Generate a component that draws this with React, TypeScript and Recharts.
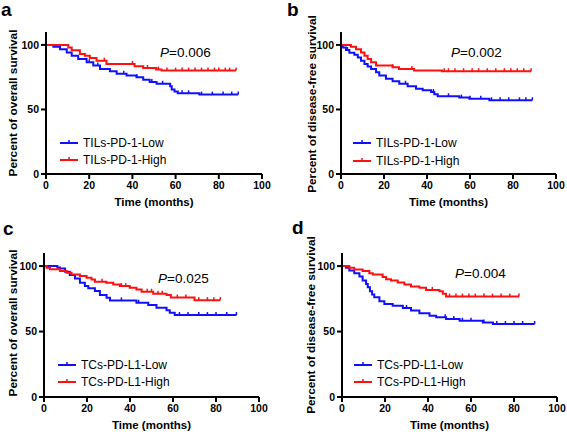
import React from "react";
import { LineChart, Line, XAxis, YAxis, Legend } from "recharts";

// Kaplan-Meier step points: [month, percent surviving]
const A_LOW: [number, number][] = [
  [0, 100], [3.4, 98.5], [6.5, 96.7], [9.6, 94.1], [11.9, 91.6], [14.9, 89], [18.8, 86.5],
  [21.9, 84], [25, 81.4], [29.6, 79.6], [32.7, 77.6], [37.3, 76.3], [41.9, 75], [45, 73],
  [48, 71.2], [51.2, 69.9], [57.5, 68], [58.2, 65.5], [59.5, 64], [61, 62.5], [71, 61.5], [89, 61.5],
];
const A_HIGH: [number, number][] = [
  [0, 100], [10.3, 98], [11.9, 95.9], [15.7, 92.9], [18, 91.6], [20.3, 89.8], [23.4, 87.8],
  [28, 85.2], [41, 83.4], [45, 82.1], [51, 80.9], [53.5, 80.1], [88, 80.1],
];
const A_LOW_CENSOR = [20, 24, 36, 42, 49, 54, 63, 66, 72, 77, 82, 86, 89];
const A_HIGH_CENSOR = [27, 40, 47, 52, 56, 60, 63, 66, 69, 72, 75, 78, 80, 83, 85, 88];

const B_LOW: [number, number][] = [
  [0, 100], [0.8, 98], [2.3, 96], [3.9, 94], [6.2, 92.3], [7.8, 90.3], [9.3, 87.8], [10.9, 85.2],
  [12.4, 83.2], [14, 81.4], [16.3, 78.8], [17.8, 76.3], [20.9, 73.7], [24, 71.9], [27.1, 69.9],
  [31, 67.9], [34.9, 66], [38, 64.8], [41.9, 63.5], [43.4, 61.7], [45, 60.2], [55, 59.2],
  [59.7, 58.2], [69, 57.1], [89, 57.1],
];
const B_HIGH: [number, number][] = [
  [0, 100], [4.6, 98.5], [7, 96.7], [9.3, 94.1], [10.9, 91.6], [12.4, 89], [14, 86.5],
  [16.3, 84], [24, 82.7], [27, 81.4], [34, 80.1], [47, 79.6], [88.4, 79.6],
];
const B_LOW_CENSOR = [3, 30, 43, 50, 56, 60, 65, 70, 74, 78, 83, 86, 89];
const B_HIGH_CENSOR = [24, 33, 48, 50, 53, 57, 61, 64, 68, 72, 76, 79, 82, 85, 88.4];

const C_LOW: [number, number][] = [
  [0, 100], [6.2, 99], [7.4, 98.2], [9.8, 95.7], [12, 93.1], [14.4, 90.6], [16.7, 87.3],
  [19, 84.7], [20.6, 83], [23.7, 80.9], [26, 77.9], [29.1, 75.8], [30.7, 73.8], [43, 72],
  [48.5, 70.2], [52.3, 68.2], [57, 66.2], [58.5, 64.4], [60.8, 62.6], [89.5, 62.6],
];
const C_HIGH: [number, number][] = [
  [0, 100], [1.2, 98.7], [2.8, 97.5], [7.4, 96.2], [10.5, 94.9], [12.8, 93.6], [16.7, 92.4],
  [19.8, 91.1], [22.1, 89.8], [23.7, 88], [29, 87.3], [32.2, 86], [35.3, 84.7], [39.9, 83.5],
  [43, 82.2], [45.4, 80.4], [50.8, 78.9], [57, 77.9], [59, 76], [70, 74], [82, 74],
];
const C_LOW_CENSOR = [36, 44, 63, 67, 72, 76, 80, 85, 89.5];
const C_HIGH_CENSOR = [27, 36, 38, 48, 50, 53, 55, 62, 66, 72, 76, 79, 82];

const D_LOW: [number, number][] = [
  [0, 100], [1.9, 98.7], [3.4, 96.7], [5.7, 94.6], [8.1, 92.1], [9.6, 89], [11.2, 86.4],
  [12, 83.9], [13, 80.8], [14, 78.3], [15, 76.2], [17.4, 73.1], [19.7, 71.1], [23.6, 69.8],
  [28.3, 68], [32.1, 66], [36, 63.9], [40.7, 62.1], [43.8, 60.9], [48.4, 59.6], [54.7, 58.3],
  [65.5, 57], [70.2, 55.8], [89.6, 55.8],
];
const D_HIGH: [number, number][] = [
  [0, 100], [3.4, 98.7], [5.7, 97.4], [9.6, 96.2], [12.7, 94.6], [14.3, 93.6], [18.9, 91.6],
  [20.5, 90], [22.8, 89], [25.9, 87.5], [29, 85.9], [32.1, 84.4], [36, 83.4], [39.1, 81.8],
  [45.3, 80.8], [46.9, 78.8], [48.4, 76.7], [82.3, 76.7],
];
const D_LOW_CENSOR = [30, 48, 52, 56, 60, 66, 72, 76, 80, 84, 89.6];
const D_HIGH_CENSOR = [42, 50, 53, 56, 59, 62, 66, 70, 74, 78, 82.3];

const X_TICKS = [0, 20, 40, 60, 80, 100];
const Y_TICKS = [0, 50, 100];

const FONT = "'Liberation Sans', Arial, sans-serif";
const BLUE = "#1010ff";
const RED = "#ff1010";

type Row = { t: number; s: number; c: boolean };

function withCensors(steps: [number, number][], censors: number[]): Row[] {
  const rows: Row[] = steps.map(([t, s]) => ({ t, s, c: false }));
  censors.forEach((ct) => {
    let s = 100;
    steps.forEach(([t, v]) => {
      if (t <= ct) s = v;
    });
    rows.push({ t: ct, s, c: true });
  });
  rows.sort((a, b) => a.t - b.t || (a.c ? 1 : -1));
  return rows;
}

// small upward tick for censored cases
const censorDot = (color: string) => (props: any) => {
  const { cx, cy, payload, index } = props;
  if (!payload || !payload.c) return <g key={index} />;
  return <line key={index} x1={cx} x2={cx} y1={cy - 3} y2={cy} stroke={color} strokeWidth={1.5} />;
};

const panels = [
  {
    letter: "a", x: 0, y: 0, w: 283, h: 218, left: 46, right: 262, top: 32, bottom: 174,
    low: withCensors(A_LOW, A_LOW_CENSOR), high: withCensors(A_HIGH, A_HIGH_CENSOR),
    lowName: "TILs-PD-1-Low", highName: "TILs-PD-1-High", p: "0.006",
    yTitle: "Percent of overall survival", yTitleX: 14, yTitleY: 103, xTitleY: 203,
    letterX: 1, letterY: 0, pX: 160, pY: 46, legX: 60, legY: 134, legGap: 17,
  },
  {
    letter: "b", x: 283, y: 0, w: 284, h: 218, left: 58, right: 273, top: 32, bottom: 174,
    low: withCensors(B_LOW, B_LOW_CENSOR), high: withCensors(B_HIGH, B_HIGH_CENSOR),
    lowName: "TILs-PD-1-Low", highName: "TILs-PD-1-High", p: "0.002",
    yTitle: "Percent of disease-free survival", yTitleX: 30, yTitleY: 104, xTitleY: 203,
    letterX: 4, letterY: 0, pX: 168, pY: 46, legX: 70, legY: 134, legGap: 18,
  },
  {
    letter: "c", x: 0, y: 218, w: 283, h: 217, left: 44, right: 259, top: 35, bottom: 179,
    low: withCensors(C_LOW, C_LOW_CENSOR), high: withCensors(C_HIGH, C_HIGH_CENSOR),
    lowName: "TCs-PD-L1-Low", highName: "TCs-PD-L1-High", p: "0.025",
    yTitle: "Percent of overall survival", yTitleX: 14, yTitleY: 105, xTitleY: 208,
    letterX: 3, letterY: 1, pX: 158, pY: 54, legX: 58, legY: 138, legGap: 17,
  },
  {
    letter: "d", x: 283, y: 218, w: 284, h: 217, left: 59, right: 274, top: 35, bottom: 179,
    low: withCensors(D_LOW, D_LOW_CENSOR), high: withCensors(D_HIGH, D_HIGH_CENSOR),
    lowName: "TCs-PD-L1-Low", highName: "TCs-PD-L1-High", p: "0.004",
    yTitle: "Percent of disease-free survival", yTitleX: 29, yTitleY: 107, xTitleY: 208,
    letterX: 9, letterY: 0, pX: 172, pY: 49, legX: 71, legY: 138, legGap: 17,
  },
];

const Y_AXIS_W = 40;
const X_AXIS_H = 30;

function LegendBox({ items, gap }: { items: { name: string; color: string }[]; gap: number }) {
  return (
    <div style={{ fontFamily: FONT, fontSize: 12, color: "#000" }}>
      {items.map((it) => (
        <div key={it.name} style={{ display: "flex", alignItems: "center", height: gap, whiteSpace: "nowrap" }}>
          <svg width={18} height={8} style={{ display: "block" }}>
            <line x1={0} x2={18} y1={4} y2={4} stroke={it.color} strokeWidth={2} />
            <line x1={9} x2={9} y1={1} y2={4} stroke={it.color} strokeWidth={1.5} />
          </svg>
          <span style={{ marginLeft: 5 }}>{it.name}</span>
        </div>
      ))}
    </div>
  );
}

function Panel({ cfg }: { cfg: (typeof panels)[number] }) {
  const tickStyle = { fill: "#000", fontSize: 10.5, fontWeight: 700, fontFamily: FONT };
  const legendItems = [
    { name: cfg.lowName, color: BLUE },
    { name: cfg.highName, color: RED },
  ];
  return (
    <div style={{ position: "absolute", left: cfg.x, top: cfg.y, width: cfg.w, height: cfg.h }}>
      <LineChart
        width={cfg.w}
        height={cfg.h}
        margin={{
          left: cfg.left - Y_AXIS_W,
          right: cfg.w - cfg.right,
          top: cfg.top,
          bottom: cfg.h - cfg.bottom - X_AXIS_H,
        }}
      >
        <XAxis
          type="number"
          dataKey="t"
          domain={[0, 100]}
          ticks={X_TICKS}
          height={X_AXIS_H}
          tick={tickStyle}
          tickSize={5}
          tickMargin={3}
          axisLine={{ stroke: "#000", strokeWidth: 2 }}
          tickLine={{ stroke: "#000", strokeWidth: 2 }}
          allowDataOverflow
        />
        <YAxis
          type="number"
          domain={[0, 110]}
          ticks={Y_TICKS}
          width={Y_AXIS_W}
          tick={tickStyle}
          tickSize={5}
          tickMargin={2}
          axisLine={{ stroke: "#000", strokeWidth: 2 }}
          tickLine={{ stroke: "#000", strokeWidth: 2 }}
          allowDataOverflow
        />
        <Legend
          layout="vertical"
          align="center"
          verticalAlign="middle"
          wrapperStyle={{ left: cfg.legX, top: cfg.legY, width: 150 }}
          content={() => <LegendBox items={legendItems} gap={cfg.legGap} />}
        />
        <Line
          data={cfg.low}
          dataKey="s"
          name={cfg.lowName}
          type="stepAfter"
          stroke={BLUE}
          strokeWidth={2}
          dot={censorDot(BLUE)}
          activeDot={false}
          isAnimationActive={false}
        />
        <Line
          data={cfg.high}
          dataKey="s"
          name={cfg.highName}
          type="stepAfter"
          stroke={RED}
          strokeWidth={2}
          dot={censorDot(RED)}
          activeDot={false}
          isAnimationActive={false}
        />
      </LineChart>
      <div
        style={{
          position: "absolute", left: cfg.letterX, top: cfg.letterY, fontFamily: FONT,
          fontWeight: 700, fontSize: 19, lineHeight: 1, color: "#000",
        }}
      >
        {cfg.letter}
      </div>
      <div
        style={{
          position: "absolute", left: cfg.pX, top: cfg.pY, fontFamily: FONT, fontSize: 13.5,
          lineHeight: 1, color: "#000", whiteSpace: "nowrap",
        }}
      >
        <i>P</i>={cfg.p}
      </div>
      <div
        style={{
          position: "absolute", left: cfg.yTitleX, top: cfg.yTitleY, fontFamily: FONT, fontSize: 11.8,
          fontWeight: 700, lineHeight: 1, color: "#000", whiteSpace: "nowrap",
          transform: "translate(-50%, -50%) rotate(-90deg)",
        }}
      >
        {cfg.yTitle}
      </div>
      <div
        style={{
          position: "absolute", left: (cfg.left + cfg.right) / 2, top: cfg.xTitleY, fontFamily: FONT,
          fontSize: 11.5, fontWeight: 700, lineHeight: 1, color: "#000", whiteSpace: "nowrap",
          transform: "translate(-50%, -50%)",
        }}
      >
        Time (months)
      </div>
    </div>
  );
}

export default function App() {
  return (
    <div style={{ position: "absolute", left: 0, top: 0, width: 567, height: 435, background: "#fff" }}>
      {panels.map((cfg) => (
        <Panel key={cfg.letter} cfg={cfg} />
      ))}
    </div>
  );
}
